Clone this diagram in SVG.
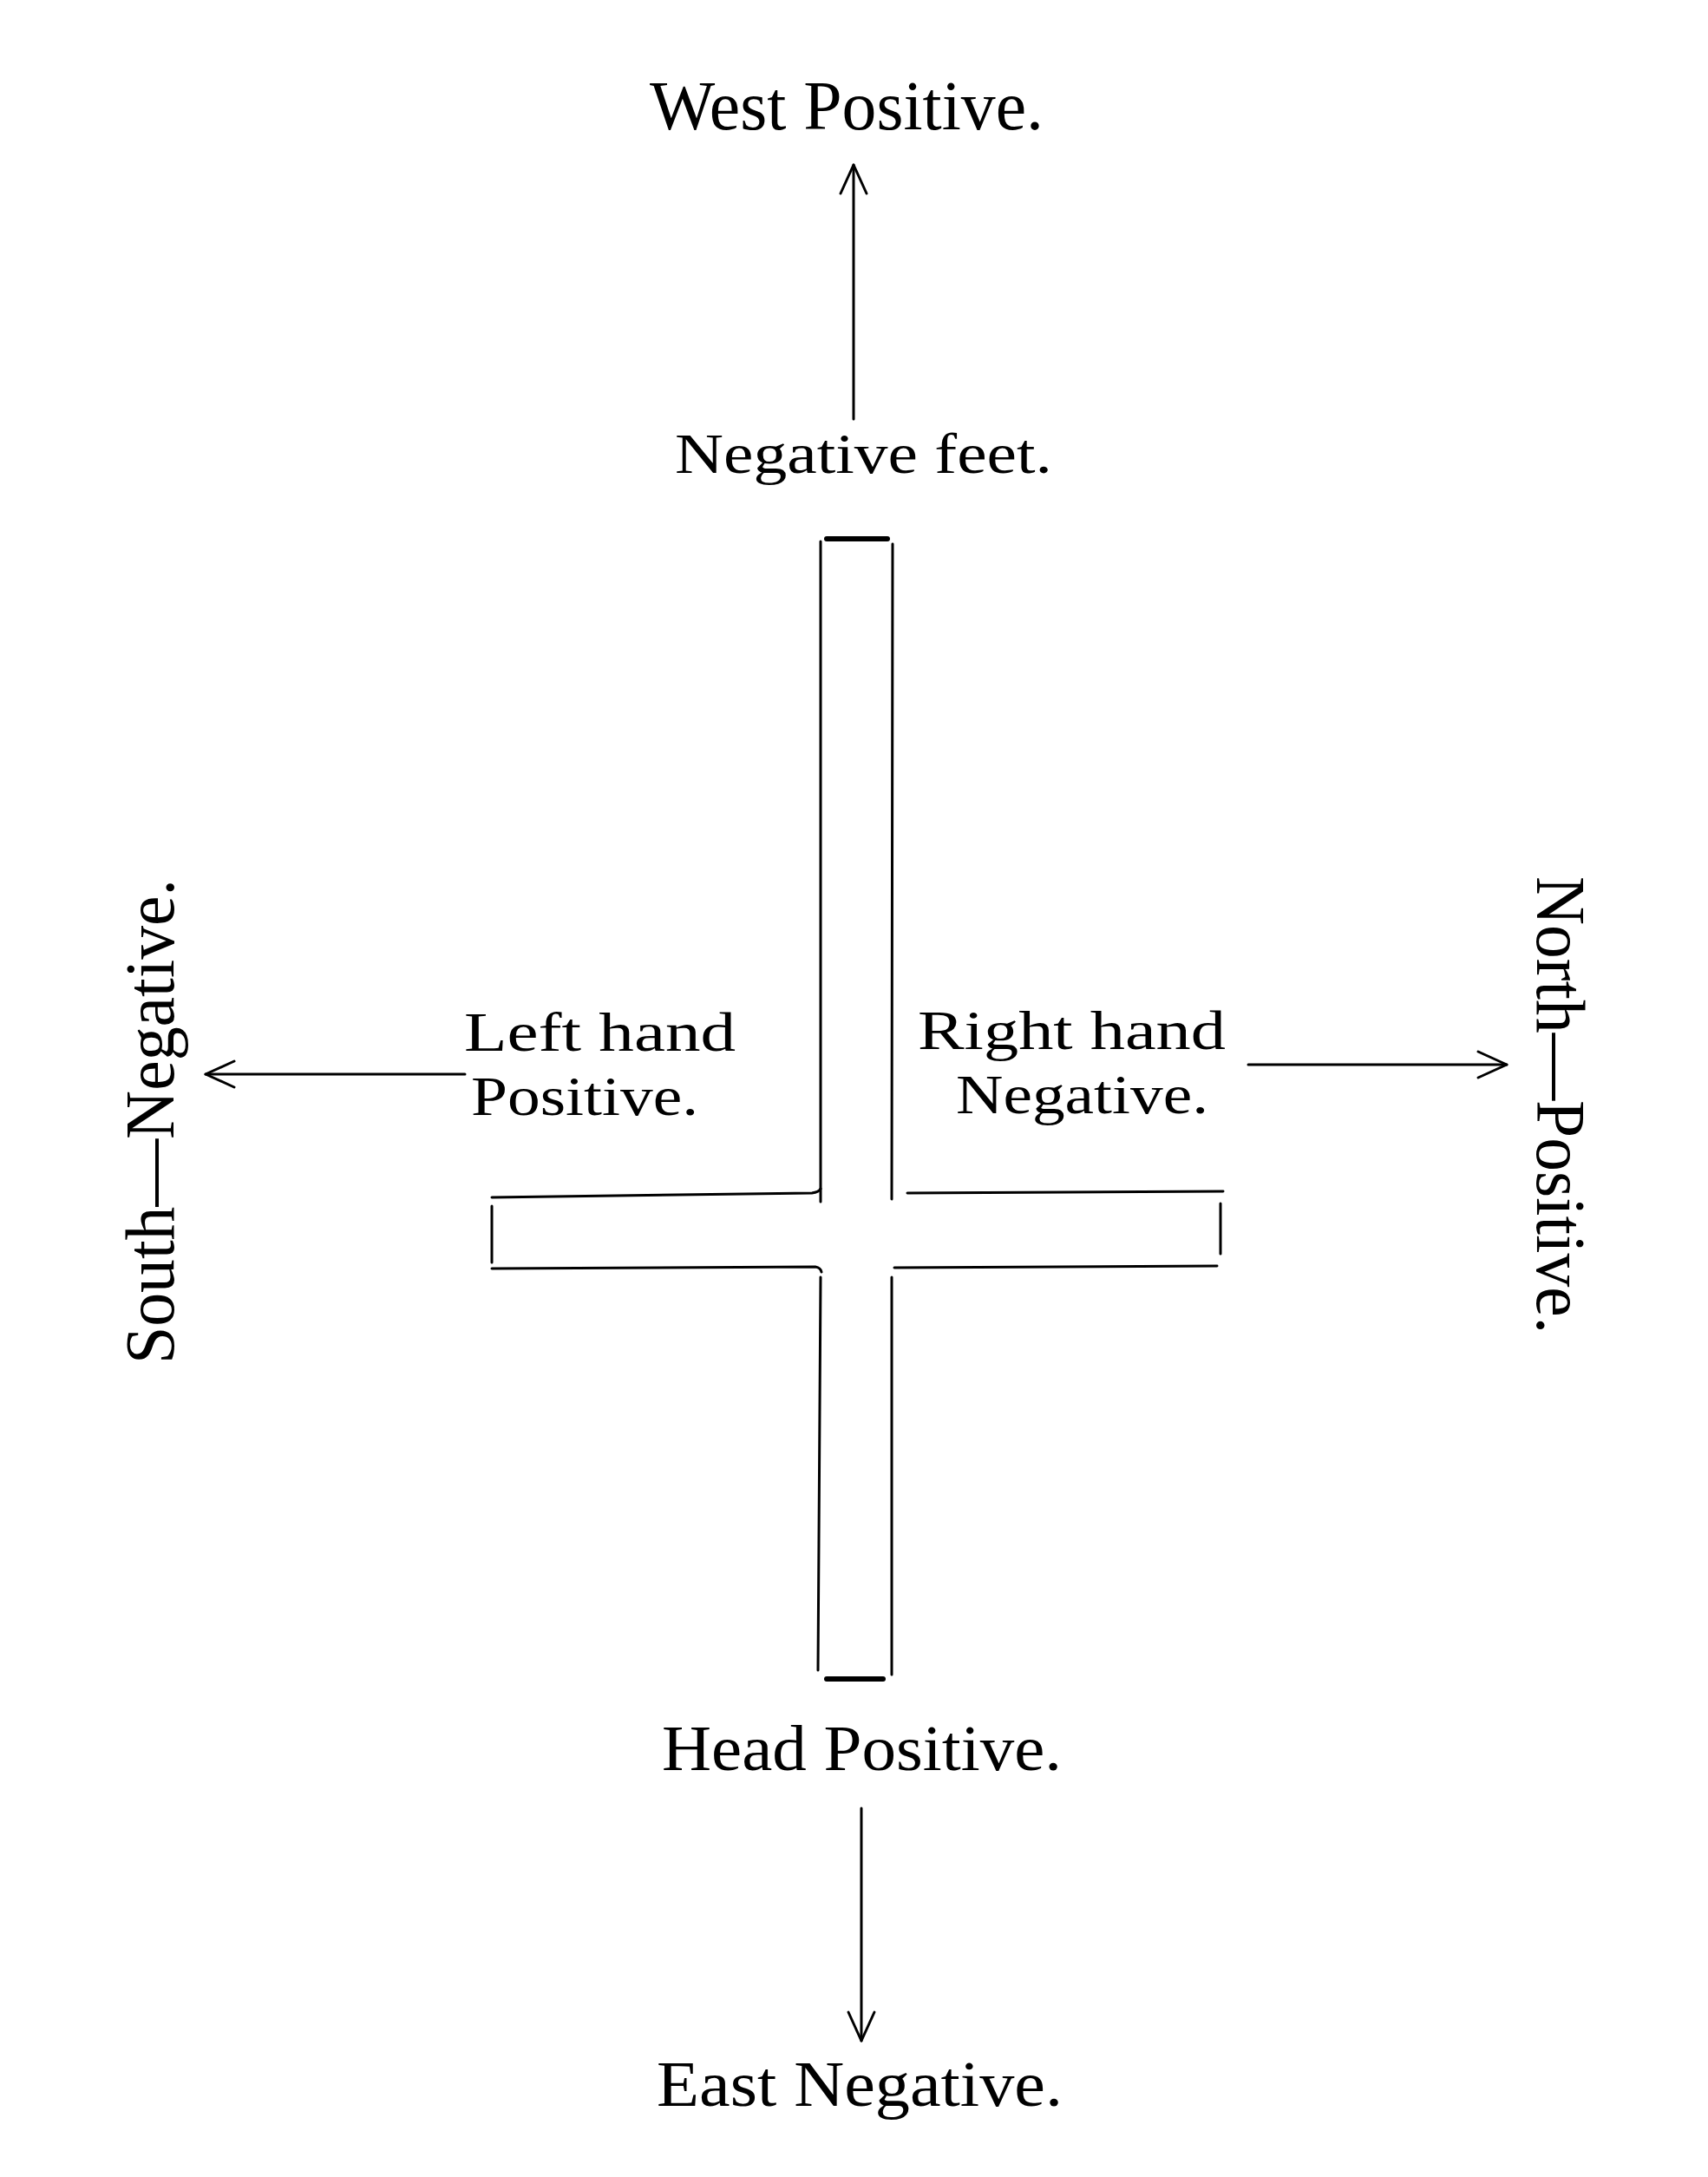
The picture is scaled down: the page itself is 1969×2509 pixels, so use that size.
<svg xmlns="http://www.w3.org/2000/svg" width="1969" height="2509" viewBox="0 0 1969 2509">
<style>
  .lbl { font-family: "Liberation Serif", "DejaVu Serif", serif; fill: #000; }
  .edge { stroke: #000; stroke-width: 3; fill: none; stroke-linecap: round; }
  .ln { stroke: #000; stroke-width: 3; fill: none; stroke-linecap: round; }
  .cap { stroke: #000; stroke-width: 6; fill: none; stroke-linecap: round; }
</style>
<defs>
  <marker id="arr" markerUnits="userSpaceOnUse" markerWidth="40" markerHeight="40" viewBox="-36 -20 40 40" refX="0" refY="0" orient="auto" overflow="visible">
    <path d="M -33 -15 L 0 0 L -33 15" fill="none" stroke="#000" stroke-width="3" stroke-linecap="round" stroke-linejoin="round"/>
  </marker>
</defs>
<rect x="0" y="0" width="1969" height="2509" fill="#fff"/>

<g id="west">
  <text class="lbl" x="749" y="149" font-size="80" textLength="454" lengthAdjust="spacingAndGlyphs">West Positive.</text>
</g>
<g id="feet">
  <text class="lbl" x="778" y="545" font-size="66" textLength="435" lengthAdjust="spacingAndGlyphs">Negative feet.</text>
</g>
<g id="left-hand">
  <text class="lbl" x="535" y="1211" font-size="64" textLength="313" lengthAdjust="spacingAndGlyphs">Left hand</text>
  <text class="lbl" x="543" y="1285" font-size="64" textLength="262" lengthAdjust="spacingAndGlyphs">Positive.</text>
</g>
<g id="right-hand">
  <text class="lbl" x="1058" y="1209" font-size="64" textLength="355" lengthAdjust="spacingAndGlyphs">Right hand</text>
  <text class="lbl" x="1102" y="1283" font-size="64" textLength="291" lengthAdjust="spacingAndGlyphs">Negative.</text>
</g>
<g id="south">
  <text class="lbl" transform="translate(200,1572) rotate(-90)" x="0" y="0" font-size="80" textLength="559" lengthAdjust="spacingAndGlyphs">South—Negative.</text>
</g>
<g id="north">
  <text class="lbl" transform="translate(1772,1010) rotate(90)" x="0" y="0" font-size="80" textLength="527" lengthAdjust="spacingAndGlyphs">North—Positive.</text>
</g>
<g id="head">
  <text class="lbl" x="763" y="2040" font-size="74" textLength="461" lengthAdjust="spacingAndGlyphs">Head Positive.</text>
</g>
<g id="east">
  <text class="lbl" x="757" y="2427" font-size="75" textLength="468" lengthAdjust="spacingAndGlyphs">East Negative.</text>
</g>

<g id="cross">
  <line class="cap" x1="953" y1="621" x2="1023" y2="621"/>
  <line class="ln" x1="946" y1="624" x2="946" y2="1385"/>
  <line class="ln" x1="1029" y1="627" x2="1028" y2="1382"/>
  <path class="ln" d="M 567 1380 L 936 1375 Q 944 1374 946 1370"/>
  <line class="ln" x1="567" y1="1390" x2="567" y2="1455"/>
  <path class="ln" d="M 567 1462 L 940 1460 Q 946 1461 947 1466"/>
  <line class="ln" x1="1046" y1="1375" x2="1410" y2="1373"/>
  <line class="ln" x1="1407" y1="1387" x2="1407" y2="1445"/>
  <line class="ln" x1="1031" y1="1461" x2="1403" y2="1459"/>
  <line class="ln" x1="946" y1="1472" x2="943" y2="1925"/>
  <line class="ln" x1="1028" y1="1472" x2="1028" y2="1930"/>
  <line class="cap" x1="953" y1="1935" x2="1018" y2="1935"/>
</g>

<g id="connectors">
  <line class="edge" x1="984" y1="483" x2="984" y2="190" marker-end="url(#arr)"/>
  <line class="edge" x1="993" y1="2084" x2="993" y2="2352" marker-end="url(#arr)"/>
  <line class="edge" x1="536" y1="1238" x2="237" y2="1238" marker-end="url(#arr)"/>
  <line class="edge" x1="1439" y1="1227" x2="1737" y2="1227" marker-end="url(#arr)"/>
</g>
</svg>
